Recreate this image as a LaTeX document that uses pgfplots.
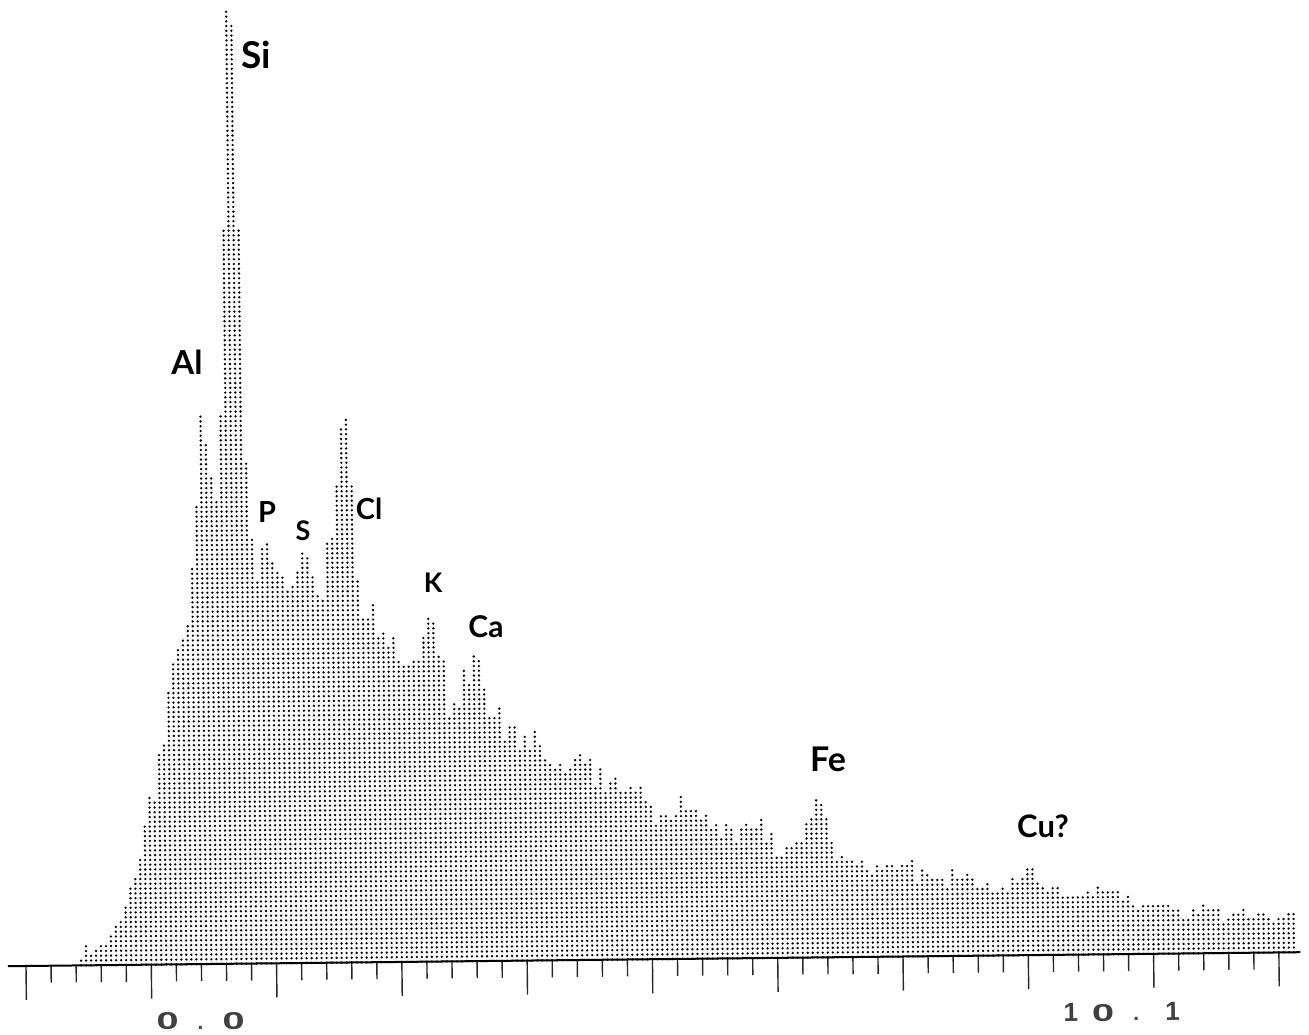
\documentclass[border=0pt]{standalone}
\usepackage{pgfplots}
\pgfplotsset{compat=1.18}
\usepackage{fontspec}
\setmainfont{Lato}
\newfontfamily\dotfont{Liberation Sans}
\newcommand{\dg}[1]{\scalebox{1.9}[1.15]{#1}}
\newcommand{\dgo}[1]{\scalebox{1.25}[1.25]{#1}}
\begin{document}
\begin{tikzpicture}[x=1pt,y=1pt]
\path[use as bounding box] (0,0) rectangle (1309,1035);
\begin{scope}[transform canvas={rotate around={0.62:(26,69)}}]
\begin{axis}[
  at={(26pt,69pt)}, anchor=origin,
  x=5.012pt, y=1pt,
  xmin=-3.6, xmax=254.3, ymin=0, ymax=970,
  axis x line=middle, axis y line=none,
  axis line style={-, black, line width=2pt},
  xtick={0,25,...,250},
  minor xtick={5,10,15,20,30,35,40,45,55,60,65,70,80,85,90,95,105,110,115,120,130,135,140,145,155,160,165,170,180,185,190,195,205,210,215,220,230,235,240,245},
  xticklabels={}, ytick=\empty,
  tick align=outside,
  major tick length=34pt, minor tick length=17pt,
  tick style={black!85, line width=1.4pt},
  minor tick style={black!85, line width=1.4pt},
  clip=false,
  y filter/.expression={4.76*round(y/4.76)+0.2},
]
\addplot[ycomb, black, mark=none, line width=2.6pt, line cap=round, dash pattern=on 0.01pt off 4.75pt]
table[row sep=\\]{x y\\
11 7\\12 17\\13 11\\14 16\\15 21\\16 21\\17 27\\18 36\\19 41\\20 55\\
21 75\\22 84\\23 103\\24 138\\25 167\\26 162\\27 211\\28 220\\29 270\\30 302\\
31 315\\32 325\\33 336\\34 396\\35 459\\36 547\\37 517\\38 484\\39 464\\40 548\\
41 734\\42 952\\43 937\\44 734\\45 499\\46 426\\47 382\\48 415\\49 419\\50 400\\
51 390\\52 386\\53 371\\54 376\\55 390\\56 410\\57 405\\58 386\\59 366\\60 361\\
61 420\\62 426\\63 478\\64 533\\65 543\\66 474\\67 382\\68 345\\69 345\\70 355\\
71 325\\72 329\\73 312\\74 325\\75 302\\76 294\\77 294\\78 301\\79 301\\80 325\\
81 345\\82 336\\83 305\\84 301\\85 244\\86 259\\87 254\\88 288\\89 278\\90 305\\
91 301\\92 273\\93 245\\94 241\\95 250\\96 221\\97 235\\98 235\\99 211\\100 226\\
101 211\\102 230\\103 215\\104 201\\105 195\\106 190\\107 195\\108 187\\109 191\\110 201\\
111 206\\112 195\\113 202\\114 172\\115 191\\116 166\\117 177\\118 182\\119 166\\120 167\\
121 172\\122 167\\123 171\\124 156\\125 151\\126 133\\127 142\\128 142\\129 137\\130 142\\
131 162\\132 147\\133 147\\134 147\\135 137\\136 143\\137 129\\138 134\\139 118\\140 133\\
141 128\\142 113\\143 128\\144 134\\145 128\\146 128\\147 138\\148 113\\149 124\\150 100\\
151 100\\152 110\\153 110\\154 115\\155 115\\156 135\\157 139\\158 157\\159 153\\160 139\\
161 115\\162 95\\163 100\\164 95\\165 95\\166 90\\167 95\\168 86\\169 81\\170 90\\
171 86\\172 90\\173 90\\174 85\\175 90\\176 90\\177 94\\178 71\\179 85\\180 80\\
181 76\\182 76\\183 76\\184 67\\185 86\\186 77\\187 77\\188 82\\189 77\\190 67\\
191 67\\192 72\\193 62\\194 62\\195 67\\196 61\\197 76\\198 71\\199 76\\200 86\\
201 86\\202 71\\203 66\\204 61\\205 67\\206 67\\207 57\\208 57\\209 57\\210 57\\
211 57\\212 62\\213 57\\214 66\\215 61\\216 61\\217 61\\218 61\\219 52\\220 56\\
221 47\\222 42\\223 47\\224 47\\225 47\\226 47\\227 47\\228 47\\229 42\\230 42\\
231 33\\232 33\\233 41\\234 36\\235 46\\236 41\\237 41\\238 41\\239 27\\240 32\\
241 36\\242 36\\243 41\\244 32\\245 32\\246 37\\247 37\\248 32\\249 27\\250 32\\
251 32\\252 40\\253 36\\
};
\node[font=\dotfont\bfseries\fontsize{21}{21}\selectfont, text=black!75] at (axis cs:34.7,-57) {\dg{0}\hspace{19pt}.\hspace{19pt}\dg{0}};
\node[font=\dotfont\bfseries\fontsize{21}{21}\selectfont, text=black!75] at (axis cs:218.5,-58) {\dgo{1}\hspace{14pt}\dg{0}\hspace{19pt}.\hspace{26pt}\dgo{1}};
\end{axis}
\end{scope}
\node[font=\bfseries\fontsize{37}{37}\selectfont] at (256,980) {Si};
\node[font=\bfseries\fontsize{33}{33}\selectfont] at (187,673) {Al};
\node[font=\bfseries\fontsize{29}{29}\selectfont] at (267,523) {P};
\node[font=\bfseries\fontsize{27}{27}\selectfont] at (303,504) {S};
\node[font=\bfseries\fontsize{29}{29}\selectfont] at (369,526) {Cl};
\node[font=\bfseries\fontsize{27}{27}\selectfont] at (433,452) {K};
\node[font=\bfseries\fontsize{30}{30}\selectfont] at (486,408) {Ca};
\node[font=\bfseries\fontsize{34}{34}\selectfont] at (828,276) {Fe};
\node[font=\bfseries\fontsize{31}{31}\selectfont] at (1043,209) {Cu?};
\end{tikzpicture}
\end{document}
